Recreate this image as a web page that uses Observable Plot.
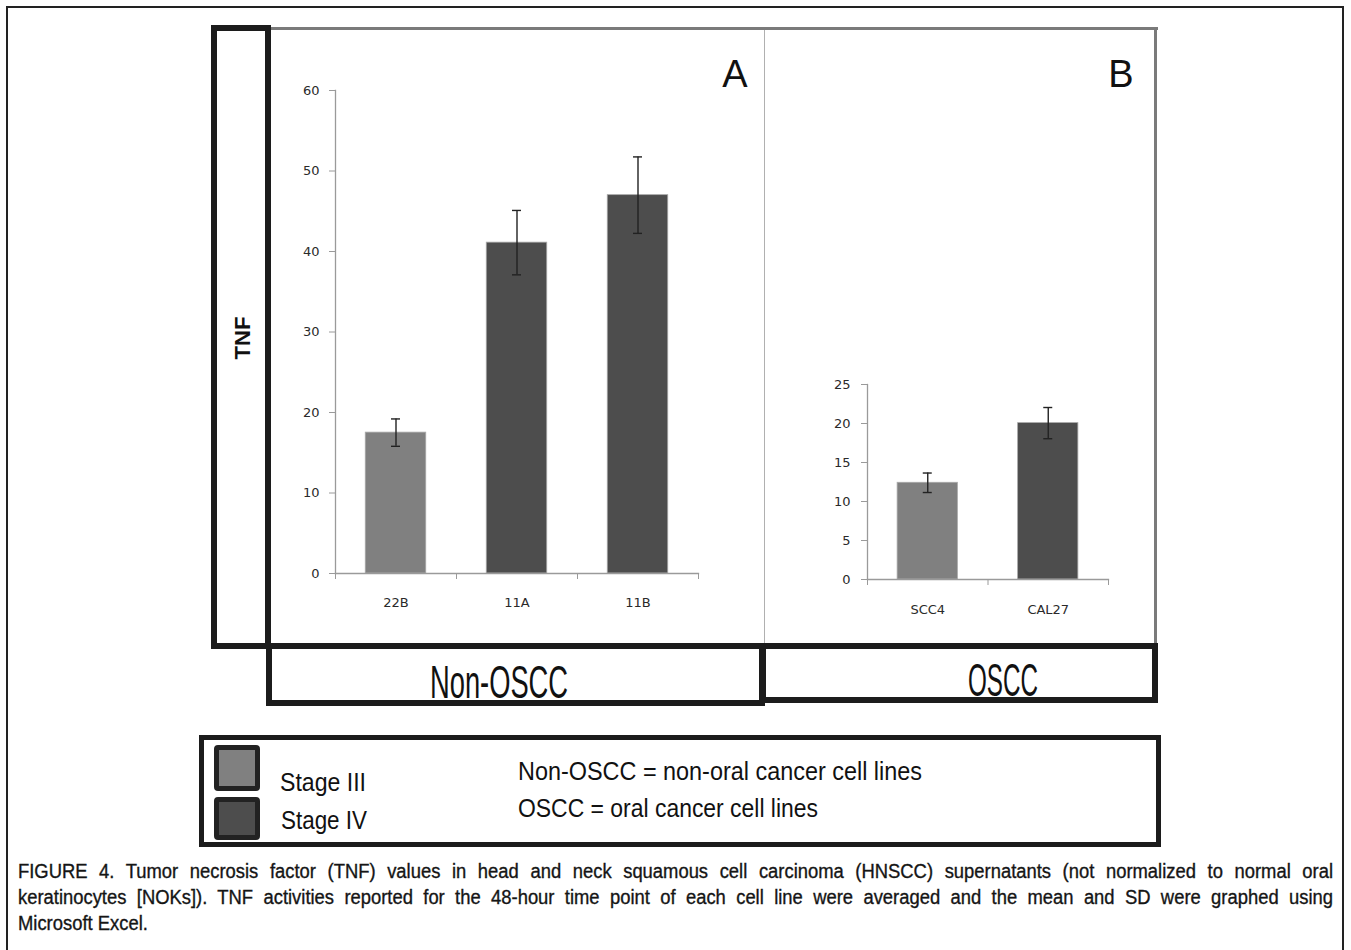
<!DOCTYPE html>
<html><head><meta charset="utf-8">
<script src="https://cdn.jsdelivr.net/npm/d3@7"></script>
<script src="https://cdn.jsdelivr.net/npm/@observablehq/plot@0.6"></script>
<style>
html,body{margin:0;padding:0;background:#fff;width:1351px;height:950px;overflow:hidden;}
#fig{position:relative;width:1351px;height:950px;overflow:hidden;}
.abs{position:absolute;box-sizing:border-box;}
.t{position:absolute;white-space:nowrap;line-height:1;font-family:"Liberation Sans",Arial,sans-serif;color:#111;}
</style></head><body><div id="fig"></div>
<script>
// ---------- data ----------
const cellsA = ["22B", "11A", "11B"];
const meansA = [17.5, 41.1, 47.0];
const sdA = [1.7, 4.0, 4.75];
const stagesA = ["Stage III", "Stage IV", "Stage IV"];
const ticksA = [0, 10, 20, 30, 40, 50, 60];

const cellsB = ["SCC4", "CAL27"];
const meansB = [12.4, 20.05];
const sdB = [1.25, 2.0];
const stagesB = ["Stage III", "Stage IV"];
const ticksB = [0, 5, 10, 15, 20, 25];

const stageNames = ["Stage III", "Stage IV"];
const stageColors = ["#808080", "#4d4d4d"];
const panelLetters = ["A", "B"];
const groupNames = ["Non-OSCC", "OSCC"];
const groupDefs = ["Non-OSCC = non-oral cancer cell lines", "OSCC = oral cancer cell lines"];
const yLabel = "TNF";
const captionLines = [
  "FIGURE 4. Tumor necrosis factor (TNF) values in head and neck squamous cell carcinoma (HNSCC) supernatants (not normalized to normal oral",
  "keratinocytes [NOKs]). TNF activities reported for the 48-hour time point of each cell line were averaged and the mean and SD were graphed using",
  "Microsoft Excel."
];

// ---------- helpers ----------
const fig = document.getElementById("fig");
function box(l, t, w, h, css) {
  const d = document.createElement("div");
  d.className = "abs";
  Object.assign(d.style, {left: l + "px", top: t + "px", width: w + "px", height: h + "px"}, css || {});
  fig.appendChild(d);
  return d;
}
function text(str, o) {
  const s = document.createElement("span");
  s.className = "t";
  s.textContent = str;
  s.style.fontSize = o.size + "px";
  if (o.weight) s.style.fontWeight = o.weight;
  if (o.family) s.style.fontFamily = o.family;
  if (o.color) s.style.color = o.color;
  s.style.top = (o.baseline - 0.8465 * o.size) + "px";
  fig.appendChild(s);
  const w0 = s.getBoundingClientRect().width;
  if (o.width) {
    s.style.left = o.x + "px";
    s.style.transformOrigin = "0 0";
    s.style.transform = `scaleX(${o.width / w0})`;
  } else if (o.align === "center") {
    s.style.left = (o.x - w0 / 2) + "px";
  } else {
    s.style.left = o.x + "px";
  }
  return s;
}

function panel(cells, means, sds, stages, ticks, o) {
  const data = cells.map((c, i) => ({cell: c, mean: means[i], lo: means[i] - sds[i], hi: means[i] + sds[i], stage: stages[i]}));
  const pi = 0.5, po = 0.25;
  const step = (o.width - o.ml - o.mr) / (cells.length - pi + 2 * po);
  const bw = step * (1 - pi);
  const capW = 9;
  const axisColor = "#9a9a9a";
  const ins = (bw - capW) / 2;
  return Plot.plot({
    width: o.width, height: o.height,
    marginLeft: o.ml, marginRight: o.mr, marginTop: o.mt, marginBottom: o.mb,
    style: {fontFamily: "DejaVu Sans, sans-serif", fontSize: "13px", color: "#2a2a2a", background: "transparent", overflow: "visible"},
    x: {domain: cells, paddingInner: pi, paddingOuter: po, round: false, label: null},
    y: {domain: [ticks[0], ticks[ticks.length - 1]], label: null},
    color: {domain: stageNames, range: stageColors},
    marks: [
      Plot.barY(data, {x: "cell", y: "mean", fill: "stage", stroke: "#a8a8a8", strokeWidth: 0.8}),
      Plot.frame({anchor: "left", stroke: axisColor, strokeWidth: 1.3}),
      Plot.frame({anchor: "bottom", stroke: axisColor, strokeWidth: 1.3}),
      Plot.axisY({ticks: ticks, tickSize: 6, tickPadding: o.yPad, stroke: axisColor, label: null}),
      Plot.axisX({tickSize: 0, tickPadding: o.xPad, label: null}),
      Plot.axisX({ticks: cells, tickSize: 6, tickFormat: () => "", dx: step / 2, stroke: axisColor, label: null}),
      Plot.axisX({ticks: [cells[0]], tickSize: 6, tickFormat: () => "", dx: -step / 2, stroke: axisColor, label: null}),
      Plot.ruleX(data, {x: "cell", y1: "lo", y2: "hi", stroke: "#222", strokeWidth: 1.4}),
      Plot.tickY(data, {x: "cell", y: "lo", insetLeft: ins, insetRight: ins, stroke: "#222", strokeWidth: 1.4}),
      Plot.tickY(data, {x: "cell", y: "hi", insetLeft: ins, insetRight: ins, stroke: "#222", strokeWidth: 1.4})
    ]
  });
}

// ---------- frames ----------
box(6, 6, 1338, 1000, {border: "2px solid #222"});
box(271, 27, 887, 3, {background: "#7a7a7a"});
box(1154, 27, 3, 618, {background: "#7a7a7a"});
box(764, 30, 1, 614, {background: "#b0b0b0"});

// ---------- charts ----------
const wrapA = box(270, 30, 490, 610, {});
wrapA.appendChild(panel(cellsA, meansA, sdA, stagesA, ticksA,
  {width: 490, height: 610, ml: 65, mr: 62, mt: 60, mb: 67, yPad: 10, xPad: 24}));
const wrapB = box(766, 30, 388, 610, {});
wrapB.appendChild(panel(cellsB, meansB, sdB, stagesB, ticksB,
  {width: 388, height: 610, ml: 101, mr: 46, mt: 354, mb: 61, yPad: 11, xPad: 25}));

// ---------- boxes ----------
box(211, 25, 60, 624, {border: "6px solid #1c1c1c"});
box(266, 643, 499, 63, {border: "6px solid #1c1c1c"});
box(760, 643, 398, 60, {border: "6px solid #1c1c1c"});
box(199, 735, 962, 112, {border: "5px solid #1c1c1c"});

// panel letters
text(panelLetters[0], {x: 735, baseline: 87, size: 38, align: "center"});
text(panelLetters[1], {x: 1121, baseline: 87, size: 38, align: "center"});

// y label
(function () {
  const s = document.createElement("span");
  s.className = "t";
  s.textContent = yLabel;
  s.style.fontSize = "22px";
  s.style.fontWeight = "bold";
  fig.appendChild(s);
  const r = s.getBoundingClientRect();
  s.style.left = (243 - r.width / 2) + "px";
  s.style.top = (338 - r.height / 2) + "px";
  s.style.transformOrigin = "50% 50%";
  s.style.transform = "rotate(-90deg)";
})();

// group labels
text(groupNames[0], {x: 430, baseline: 698, size: 47, width: 138});
text(groupNames[1], {x: 968, baseline: 696, size: 47, width: 70});

// legend
box(214, 745, 46, 46, {border: "5px solid #222", borderRadius: "4px", background: stageColors[0]});
box(214, 797, 46, 43, {border: "5px solid #222", borderRadius: "4px", background: stageColors[1]});
text(stageNames[0], {x: 280, baseline: 791, size: 26, width: 86});
text(stageNames[1], {x: 281, baseline: 829, size: 26, width: 86});
text(groupDefs[0], {x: 518, baseline: 780, size: 26, width: 404});
text(groupDefs[1], {x: 518, baseline: 817, size: 26, width: 300});

// caption (condensed look: horizontally scaled, justified via word spacing)
const capScale = 0.92, capWidth = 1315, capSize = 20;
captionLines.forEach((ln, i) => {
  const s = document.createElement("span");
  s.className = "t";
  s.textContent = ln;
  s.style.fontSize = capSize + "px";
  s.style.color = "#151515";
  s.style.webkitTextStroke = "0.35px #151515";
  s.style.left = "18px";
  s.style.top = (878 + 26 * i - 0.8465 * capSize) + "px";
  s.style.transformOrigin = "0 0";
  fig.appendChild(s);
  const w0 = s.getBoundingClientRect().width;
  let sc = capScale;
  if (i < captionLines.length - 1) {
    const n = (ln.match(/ /g) || []).length;
    const extra = (capWidth / sc - w0) / n;
    if (extra >= 0) s.style.wordSpacing = extra + "px";
    else sc = capWidth / w0;
  }
  s.style.transform = `scaleX(${sc})`;
});
</script>
</body></html>
